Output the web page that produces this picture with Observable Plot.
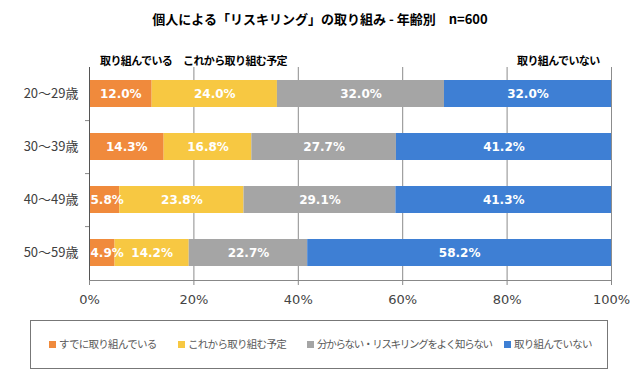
<!DOCTYPE html>
<html><head><meta charset="utf-8">
<script src="https://cdn.jsdelivr.net/npm/d3@7"></script>
<script src="https://cdn.jsdelivr.net/npm/@observablehq/plot@0.6"></script>
<style>
body{margin:0;background:#fff;font-family:"Noto Sans CJK JP","Noto Sans",sans-serif;}
#wrap{position:relative;width:640px;height:379px;}
.ov{position:absolute;white-space:nowrap;color:#000;}
#title{left:0;width:640px;top:9px;text-align:center;font-size:13px;font-weight:bold;}
.hdr{top:52px;font-size:11px;font-weight:bold;letter-spacing:-0.6px;}
#legend{position:absolute;left:30px;top:320px;width:578px;height:49px;border:1px solid #777;box-sizing:border-box;}
#legend .it{position:absolute;top:15px;white-space:nowrap;font-size:10.5px;letter-spacing:-0.7px;color:#595959;}
#legend span.sw{display:inline-block;width:7px;height:7px;margin-right:3px;vertical-align:middle;position:relative;top:-1px;}
</style></head>
<body><div id="wrap">
<div id="chart"></div>
<div class="ov" id="title">個人による「リスキリング」の取り組み - 年齢別　n=600</div>
<div class="ov hdr" style="left:100px">取り組んでいる</div>
<div class="ov hdr" style="left:183px">これから取り組む予定</div>
<div class="ov hdr" style="left:517px">取り組んでいない</div>
<div id="legend"></div>
</div>
<script>
const ages = ["20～29歳", "30～39歳", "40～49歳", "50～59歳"];
const categories = ["すでに取り組んでいる", "これから取り組む予定", "分からない・リスキリングをよく知らない", "取り組んでいない"];
const colors = ["#F08A3C", "#F7C842", "#A5A5A5", "#3E7FD4"];
const already = [12.0, 14.3, 5.8, 4.9];
const planned = [24.0, 16.8, 23.8, 14.2];
const unknown = [32.0, 27.7, 29.1, 22.7];
const notDoing = [32.0, 41.2, 41.3, 58.2];
const xTicks = [0, 20, 40, 60, 80, 100];

const series = [already, planned, unknown, notDoing];
const data = [];
ages.forEach((a, i) => series.forEach((s, j) => data.push({age: a, cat: categories[j], value: s[i]})));
const fmt = d => d.value.toFixed(1) + "%";
const labelFont = {fill: "white", fontWeight: "bold", fontSize: 12, fontFamily: "Verdana, 'DejaVu Sans', sans-serif"};

const chart = Plot.plot({
  width: 640, height: 379,
  marginTop: 67, marginBottom: 99, marginLeft: 89, marginRight: 29,
  style: {fontFamily: '"Noto Sans CJK JP", sans-serif', fontSize: "12px", color: "#404040"},
  x: {domain: [0, 100], ticks: xTicks, tickFormat: d => d + "%", label: null},
  y: {domain: ages, paddingInner: 0.49, paddingOuter: 0.245, label: null},
  color: {domain: categories, range: colors},
  marks: [
    Plot.ruleX(xTicks.slice(1), {stroke: "#8c8c8c", strokeWidth: 1, strokeOpacity: 1}),
    Plot.barX(data, Plot.stackX({x: "value", y: "age", fill: "cat", order: null})),
    Plot.text(data, Plot.stackX({x: "value", y: "age", z: "cat", order: null,
      text: d => d.value >= 8 ? fmt(d) : null, ...labelFont})),
    Plot.text(data, Plot.stackX1({x: "value", y: "age", z: "cat", order: null,
      text: d => d.value < 8 ? fmt(d) : null, textAnchor: "start", dx: 1, ...labelFont})),
    Plot.ruleX([0], {stroke: "#555"}),
    Plot.frame({anchor: "bottom", stroke: "#888"}),
    Plot.axisX({ticks: xTicks, tickFormat: d => d + "%", tickSize: 5, tickPadding: 9, stroke: "#888",
      fontSize: 13, fill: "#444", fontFamily: "Verdana, 'DejaVu Sans', sans-serif", label: null}),
    Plot.axisY({tickSize: 0, tickPadding: 11, fontSize: 13, fill: "#404040", label: null}),
    Plot.axisY(ages.slice(0, 3), {tickSize: 4, text: null, dy: 26.6, stroke: "#888", label: null})
  ]
});
document.getElementById("chart").appendChild(chart);

const legendLeft = [18, 147, 276, 473];
const legendSpacing = [-0.7, -0.7, -1.3, -0.7];
const lg = document.getElementById("legend");
categories.forEach((c, i) => {
  const it = document.createElement("div");
  it.className = "it";
  it.style.left = legendLeft[i] + "px";
  it.style.letterSpacing = legendSpacing[i] + "px";
  it.innerHTML = `<span class="sw" style="background:${colors[i]}"></span>${c}`;
  lg.appendChild(it);
});
</script>
</body></html>
